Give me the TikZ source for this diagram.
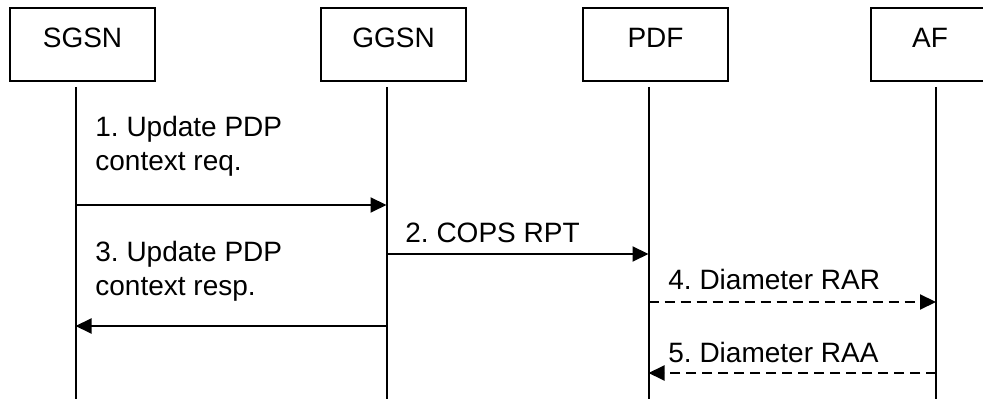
\documentclass[tikz,border=0pt]{standalone}
\usepackage{fontspec}
\setmainfont{Liberation Sans}
\usetikzlibrary{arrows.meta,positioning}
\frenchspacing

\tikzset{
  entity/.style={draw,line width=1pt,minimum width=72.5pt,inner ysep=0pt,
    text height=20pt,text depth=16.5pt,font=\fontsize{14}{17}\selectfont},
  lifeline/.style={line width=1pt},
  msg/.style={line width=1pt,-{Triangle[length=8pt,width=7.5pt]}},
  answer/.style={msg,dash pattern=on 5pt off 3pt},
  txt/.style={anchor=base west,inner sep=0pt,align=left,
    font=\fontsize{14}{17.3}\selectfont}
}

\begin{document}
\begin{tikzpicture}[x=0.5pt,y=-0.5pt]
    \useasboundingbox (0,0) rectangle (983,399);
    \clip (0,0) rectangle (983,399);

    % the four entities
    \node[entity,anchor=north west] (sgsn) at (9,7) {SGSN};
    \node[entity,right=82pt of sgsn] (ggsn) {GGSN};
    \node[entity,right=57.5pt of ggsn] (pdf) {PDF};
    \node[entity,minimum width=59pt,right=70.5pt of pdf] (af) {AF};

    % lifelines
    \foreach \e/\dx in {sgsn/-3.5pt,ggsn/-3.5pt,pdf/-3.5pt,af/3pt} {
        \coordinate (\e-top) at ([xshift=\dx,yshift=-2.5pt]\e.south);
        \draw[lifeline] (\e-top) -- (\e-top |- 0,399);
    }

    % messages
    \draw[msg] (sgsn-top |- 0,205) -- (ggsn-top |- 0,205);
    \node[txt] (m1) at (95,171) {1. Update PDP\\context req.};

    \draw[msg] (ggsn-top |- 0,254) -- (pdf-top |- 0,254);
    \node[txt] (m2) at (405,243) {2. COPS RPT};

    \draw[msg] (ggsn-top |- 0,326) -- (sgsn-top |- 0,326);
    \node[txt] (m3) at (95,296) {3. Update PDP\\context resp.};

    \draw[answer] (pdf-top |- 0,302) -- (af-top |- 0,302);
    \node[txt] (m4) at (668,290) {4. Diameter RAR};

    \draw[answer] (af-top |- 0,373) -- (pdf-top |- 0,373);
    \node[txt] (m5) at (668,363) {5. Diameter RAA};
\end{tikzpicture}
\end{document}
